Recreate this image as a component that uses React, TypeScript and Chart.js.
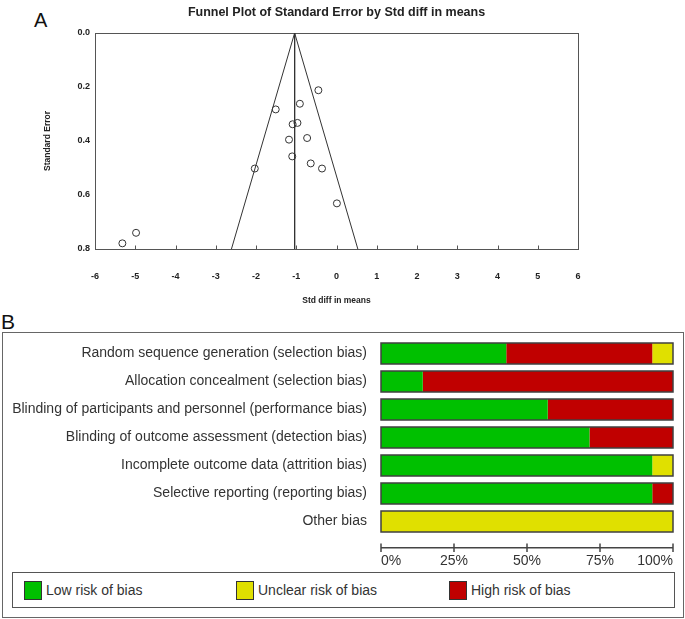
import React, { useEffect, useRef } from "react";
import { Chart, registerables } from "chart.js";

Chart.register(...registerables);

const FONT = "Arial, 'Liberation Sans', Helvetica, sans-serif";

// ---------- Panel A: funnel plot ----------
const funnelTitle = "Funnel Plot of Standard Error by Std diff in means";
const studyEffect = [-0.45, -0.91, -1.51, -1.09, -0.97, -1.18, -0.73, -1.1, -0.64, -0.36, 0.01, -2.03, -4.98, -5.32];
const studySE = [0.212, 0.262, 0.283, 0.338, 0.333, 0.395, 0.389, 0.457, 0.483, 0.502, 0.631, 0.502, 0.74, 0.779];
const pooledEffect = -1.04;
const funnelEdgeEffect = [-2.61, -1.04, 0.53];
const funnelEdgeSE = [0.8, 0, 0.8];
const pooledLineSE = [0, 0.8];

// ---------- Panel B: risk of bias ----------
const domains = [
  "Random sequence generation (selection bias)",
  "Allocation concealment (selection bias)",
  "Blinding of participants and personnel (performance bias)",
  "Blinding of outcome assessment (detection bias)",
  "Incomplete outcome data (attrition bias)",
  "Selective reporting (reporting bias)",
  "Other bias",
];
const lowRisk = [42.9, 14.3, 57.1, 71.4, 92.9, 92.9, 0];
const highRisk = [50.0, 85.7, 42.9, 28.6, 0, 7.1, 0];
const unclearRisk = [7.1, 0, 0, 0, 7.1, 0, 100];
const percentTicks = [0, 25, 50, 75, 100];

const GREEN = "#00C000";
const YELLOW = "#E0E000";
const RED = "#C00000";

const legendItems = [
  { label: "Low risk of bias", color: GREEN, left: 24 },
  { label: "Unclear risk of bias", color: YELLOW, left: 236 },
  { label: "High risk of bias", color: RED, left: 449 },
];

const funnelDecor = {
  id: "funnelDecor",
  beforeDatasetsDraw(chart: any) {
    const { ctx, chartArea } = chart;
    ctx.save();
    ctx.strokeStyle = "#555";
    ctx.lineWidth = 1;
    const l = Math.round(chartArea.left) + 0.5;
    const t = Math.round(chartArea.top) + 0.5;
    const r = Math.round(chartArea.right) + 0.5;
    const b = Math.round(chartArea.bottom) + 0.5;
    ctx.strokeRect(l, t, r - l, b - t);
    const xs = chart.scales.x;
    xs.ticks.forEach((tk: any) => {
      const px = Math.round(xs.getPixelForValue(tk.value)) + 0.5;
      ctx.beginPath();
      ctx.moveTo(px, b);
      ctx.lineTo(px, b - 4);
      ctx.stroke();
    });
    ctx.fillStyle = "#222";
    ctx.font = `bold 12.5px ${FONT}`;
    ctx.textAlign = "center";
    ctx.textBaseline = "middle";
    ctx.fillText(funnelTitle, (chartArea.left + chartArea.right) / 2, 13);
    ctx.restore();
  },
};

const barDecor = {
  id: "barDecor",
  afterDatasetsDraw(chart: any) {
    const { ctx, chartArea } = chart;
    const xs = chart.scales.x;
    const x0 = xs.getPixelForValue(0);
    const x1 = xs.getPixelForValue(100);
    ctx.save();
    ctx.strokeStyle = "#404040";
    ctx.lineWidth = 1.5;
    const meta = chart.getDatasetMeta(0);
    meta.data.forEach((el: any) => {
      const { y, height } = el.getProps(["y", "height"], true);
      ctx.strokeRect(x0, y - height / 2, x1 - x0, height);
    });
    // percent axis
    const ay = chartArea.bottom + 12.2;
    ctx.strokeStyle = "#444";
    ctx.beginPath();
    ctx.moveTo(x0, ay);
    ctx.lineTo(x1, ay);
    ctx.stroke();
    percentTicks.forEach((v) => {
      const px = xs.getPixelForValue(v);
      ctx.beginPath();
      ctx.moveTo(px, ay - 4.3);
      ctx.lineTo(px, ay + 4.3);
      ctx.stroke();
    });
    ctx.restore();
  },
};

const zeroPad = (s: any) => {
  s.paddingTop = 0;
  s.paddingBottom = 0;
  s.paddingLeft = 0;
  s.paddingRight = 0;
};

export default function App() {
  const ref1 = useRef<HTMLCanvasElement>(null);
  const ref2 = useRef<HTMLCanvasElement>(null);

  useEffect(() => {
    const c1 = new Chart(ref1.current as HTMLCanvasElement, {
      type: "scatter",
      data: {
        datasets: [
          {
            data: funnelEdgeEffect.map((x, i) => ({ x, y: funnelEdgeSE[i] })),
            showLine: true,
            borderColor: "#333",
            borderWidth: 1,
            pointRadius: 0,
          },
          {
            data: pooledLineSE.map((y) => ({ x: pooledEffect, y })),
            showLine: true,
            borderColor: "#333",
            borderWidth: 1,
            pointRadius: 0,
          },
          {
            data: studyEffect.map((x, i) => ({ x, y: studySE[i] })),
            pointRadius: 3.5,
            pointBorderColor: "#333",
            pointBackgroundColor: "rgba(255,255,255,0)",
            pointBorderWidth: 1,
          },
        ],
      },
      options: {
        animation: false,
        responsive: false,
        devicePixelRatio: 1,
        layout: { padding: { top: 33, right: 107, left: 0, bottom: 0 } },
        plugins: { legend: { display: false }, tooltip: { enabled: false }, title: { display: false } },
        scales: {
          x: {
            type: "linear",
            min: -6,
            max: 6,
            ticks: {
              stepSize: 1,
              padding: 22.5,
              font: { family: FONT, size: 9, weight: "bold" },
              color: "#222",
              callback: (v: any) => String(v),
            },
            grid: { display: false, drawTicks: false },
            border: { display: false },
            title: {
              display: true,
              text: "Std diff in means",
              font: { family: FONT, size: 8.5, weight: "bold" },
              color: "#222",
              padding: { top: 0, bottom: 3.9 },
            },
            afterFit: (s: any) => {
              s.height = 61;
              zeroPad(s);
            },
          },
          y: {
            type: "linear",
            min: 0,
            max: 0.8,
            reverse: true,
            ticks: {
              stepSize: 0.2,
              padding: 5,
              font: { family: FONT, size: 9, weight: "bold" },
              color: "#222",
              callback: (v: any) => Number(v).toFixed(1),
            },
            grid: { display: false, drawTicks: false },
            border: { display: false },
            title: {
              display: true,
              text: "Standard Error",
              font: { family: FONT, size: 8.5, weight: "bold" },
              color: "#222",
              padding: { top: 42.9, bottom: 0 },
            },
            afterFit: (s: any) => {
              s.width = 95;
              zeroPad(s);
            },
          },
        },
      },
      plugins: [funnelDecor],
    } as any);

    const c2 = new Chart(ref2.current as HTMLCanvasElement, {
      type: "bar",
      data: {
        labels: domains,
        datasets: [
          { label: "Low risk of bias", data: lowRisk, backgroundColor: GREEN },
          { label: "High risk of bias", data: highRisk, backgroundColor: RED },
          { label: "Unclear risk of bias", data: unclearRisk, backgroundColor: YELLOW },
        ],
      },
      options: {
        indexAxis: "y",
        animation: false,
        responsive: false,
        devicePixelRatio: 1,
        layout: { padding: { top: 7.5, right: 12, left: 0, bottom: 0 } },
        datasets: { bar: { barPercentage: 0.75, categoryPercentage: 1, borderWidth: 0 } },
        plugins: { legend: { display: false }, tooltip: { enabled: false } },
        scales: {
          x: {
            stacked: true,
            min: 0,
            max: 100,
            ticks: {
              stepSize: 25,
              align: "inner",
              padding: 16.8,
              font: { family: FONT, size: 14 },
              color: "#333",
              callback: (v: any) => v + "%",
            },
            grid: { display: false, drawTicks: false },
            border: { display: false },
            afterFit: (s: any) => {
              s.height = 34.5;
              zeroPad(s);
            },
          },
          y: {
            stacked: true,
            ticks: { padding: 14, font: { family: FONT, size: 14 }, color: "#333" },
            grid: { display: false, drawTicks: false },
            border: { display: false },
            afterFit: (s: any) => {
              s.width = 381;
              zeroPad(s);
            },
          },
        },
      },
      plugins: [barDecor],
    } as any);

    return () => {
      c1.destroy();
      c2.destroy();
    };
  }, []);

  return (
    <div style={{ position: "relative", width: 685, height: 619, background: "#fff", overflow: "hidden", fontFamily: FONT }}>
      <style>{`body{margin:0;background:#fff}`}</style>
      <div style={{ position: "absolute", left: 34, top: 10.4, fontSize: 20, lineHeight: "20px", color: "#111" }}>A</div>
      <canvas ref={ref1} width={685} height={310} style={{ position: "absolute", left: 0, top: 0 }} />
      <div style={{ position: "absolute", left: 1, top: 310.6, fontSize: 21, lineHeight: "21px", color: "#111" }}>B</div>
      <div
        style={{
          position: "absolute",
          left: 2,
          top: 332,
          width: 682,
          height: 286,
          boxSizing: "border-box",
          border: "1px solid #666",
        }}
      />
      <canvas ref={ref2} width={685} height={238} style={{ position: "absolute", left: 0, top: 332 }} />
      <div
        style={{
          position: "absolute",
          left: 12,
          top: 572,
          width: 663,
          height: 36,
          boxSizing: "border-box",
          border: "1px solid #555",
        }}
      />
      {legendItems.map((it) => (
        <React.Fragment key={it.label}>
          <div
            style={{
              position: "absolute",
              left: it.left,
              top: 581,
              width: 18,
              height: 19,
              boxSizing: "border-box",
              border: "1px solid #333",
              background: it.color,
            }}
          />
          <div
            style={{
              position: "absolute",
              left: it.left + 22,
              top: 581,
              height: 19,
              lineHeight: "19px",
              fontSize: 14,
              color: "#333",
              whiteSpace: "nowrap",
            }}
          >
            {it.label}
          </div>
        </React.Fragment>
      ))}
    </div>
  );
}
